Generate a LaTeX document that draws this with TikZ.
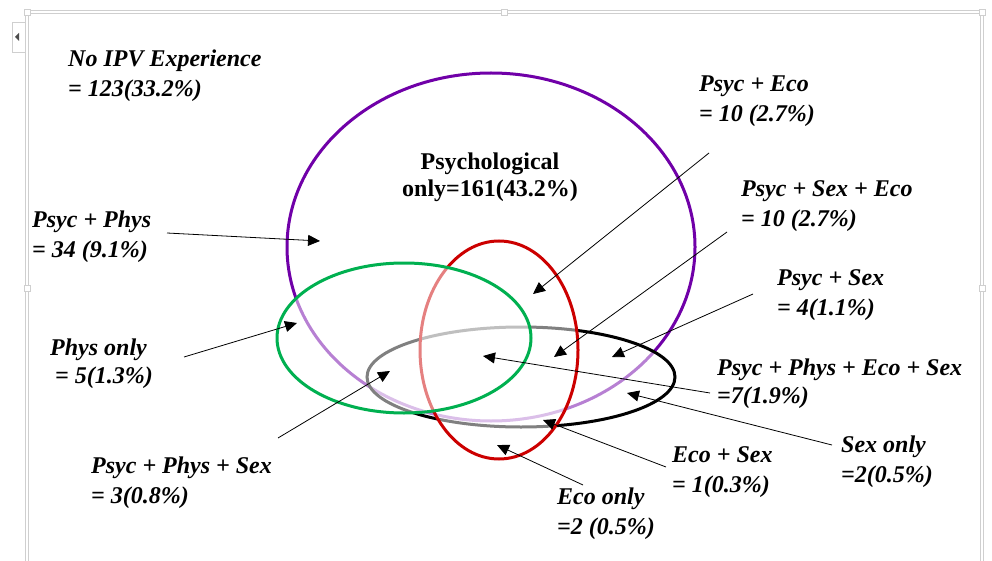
\documentclass[tikz,border=0pt]{standalone}
\usepackage{fontspec}
\setmainfont{Liberation Serif}
\usetikzlibrary{arrows.meta}
\definecolor{ipvpurple}{HTML}{7000A8}
\definecolor{ipvred}{HTML}{CC0000}
\definecolor{ipvgreen}{HTML}{00B050}
\definecolor{uigray}{HTML}{CFCFCF}
\begin{document}
\begin{tikzpicture}[x=1pt,y=-1pt,
  lbl/.style={anchor=base west, align=left, inner sep=0pt, font=\fontsize{24}{30}\selectfont\bfseries\itshape},
  ptr/.style={-{Triangle[length=12pt,width=11pt]}, line width=0.8pt},
  setring/.style={line width=3pt, fill=white, fill opacity=0.5},
  handle/.style={draw=uigray, fill=white, minimum size=6pt, inner sep=0pt, line width=0.8pt},
]
\useasboundingbox (0,0) rectangle (992,561);
% window frame
\draw[uigray, line width=4.5pt] (27,561) -- (27,12) -- (982,12) -- (982,561);
\draw[white, line width=2pt] (27,561) -- (27,12) -- (982,12) -- (982,561);
\draw[uigray, fill=white, line width=0.8pt] (12,22) rectangle (25,52);
\fill[black!70] (15,37) -- (19,33) -- (19,41) -- cycle;
\node[handle] (h1) at (27,12) {};
\node[handle] (h2) at (504,12) {};
\node[handle] (h3) at (982,12) {};
\node[handle] (h4) at (27,288) {};
\node[handle] (h5) at (982,288) {};

% sets
\draw[ipvpurple, setring] (491,247) ellipse [x radius=204pt, y radius=174pt];
\draw[black, setring] (521,377) ellipse [x radius=154pt, y radius=50pt];
\draw[ipvred, setring] (499,350) ellipse [x radius=79pt, y radius=109pt];
\draw[ipvgreen, setring] (404,338) ellipse [x radius=127pt, y radius=75pt];

% labels (anchor = baseline of the last line)
\node[lbl] (noipv) at (68,97) {No IPV Experience\\= 123(33.2\%)};
\node[anchor=base, align=center, inner sep=0pt, font=\fontsize{24}{27}\selectfont\bfseries] (psy) at (490,197) {Psychological\\only=161(43.2\%)};
\node[lbl] (pp) at (32,258) {Psyc + Phys\\= 34 (9.1\%)};
\node[lbl] (pe) at (699,122) {Psyc + Eco\\= 10 (2.7\%)};
\node[lbl] (pse) at (741,227) {Psyc + Sex + Eco\\= 10 (2.7\%)};
\node[lbl] (ps) at (777,315) {Psyc + Sex\\= 4(1.1\%)};
\node[lbl, font=\fontsize{24}{28}\selectfont\bfseries\itshape] (ppes) at (717,403) {Psyc + Phys + Eco + Sex\\=7(1.9\%)};
\node[lbl] (so) at (841,482) {Sex only\\=2(0.5\%)};
\node[lbl] (es) at (672,492) {Eco + Sex\\= 1(0.3\%)};
\node[lbl] (eo) at (557,534) {Eco only\\=2 (0.5\%)};
\node[lbl, font=\fontsize{24}{28}\selectfont\bfseries\itshape] (phyo) at (50,383) {Phys only\\\hspace*{5pt}= 5(1.3\%)};
\node[lbl] (pps) at (91,503) {Psyc + Phys + Sex\\= 3(0.8\%)};

% arrow ends
\coordinate (ppT) at (167,233);   \coordinate (ppH) at (320,241);
\coordinate (peT) at (709,153);   \coordinate (peH) at (533,294);
\coordinate (pseT) at (727,232);  \coordinate (pseH) at (554,357);
\coordinate (psT) at (753,294);   \coordinate (psH) at (612,357);
\coordinate (ppesT) at (710,393); \coordinate (ppesH) at (483,356);
\coordinate (soT) at (832,445);   \coordinate (soH) at (627,393);
\coordinate (esT) at (666,467);   \coordinate (esH) at (543,420);
\coordinate (eoT) at (583,485);   \coordinate (eoH) at (497,445);
\coordinate (ppsT) at (278,438);  \coordinate (ppsH) at (390,371);
\coordinate (phyoT) at (184,357); \coordinate (phyoH) at (297,323);

\draw[ptr] (ppT) -- (ppH);
\draw[ptr] (peT) -- (peH);
\draw[ptr] (pseT) -- (pseH);
\draw[ptr] (psT) -- (psH);
\draw[ptr] (ppesT) -- (ppesH);
\draw[ptr] (soT) -- (soH);
\draw[ptr] (esT) -- (esH);
\draw[ptr] (eoT) -- (eoH);
\draw[ptr] (ppsT) -- (ppsH);
\draw[ptr] (phyoT) -- (phyoH);
\end{tikzpicture}
\end{document}
